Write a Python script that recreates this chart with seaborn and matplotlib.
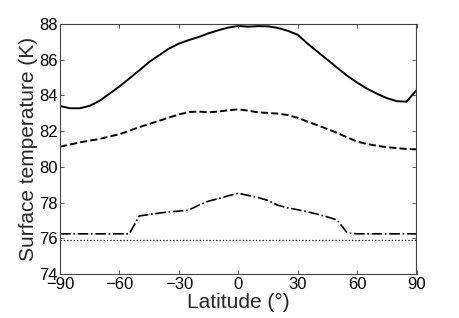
"""Surface temperature versus latitude, four model cases."""

import matplotlib

matplotlib.use("Agg")
import matplotlib.pyplot as plt
import numpy as np
import pandas as pd
import seaborn as sns

latitude = list(range(-90, 91, 5))

temp_solid = [
    83.41, 83.28, 83.28, 83.42, 83.70, 84.10, 84.50, 84.95, 85.40, 85.87,
    86.25, 86.62, 86.90, 87.10, 87.27, 87.48, 87.65, 87.80, 87.89, 87.85,
    87.88, 87.87, 87.78, 87.62, 87.40, 86.90, 86.45, 86.00, 85.55, 85.10,
    84.72, 84.38, 84.10, 83.85, 83.68, 83.65, 84.30,
]
temp_dashed = [
    81.13, 81.25, 81.37, 81.47, 81.56, 81.70, 81.83, 82.02, 82.22, 82.40,
    82.58, 82.76, 82.93, 83.07, 83.10, 83.05, 83.10, 83.17, 83.22, 83.15,
    83.05, 83.02, 82.98, 82.90, 82.75, 82.53, 82.33, 82.12, 81.90, 81.65,
    81.42, 81.28, 81.18, 81.10, 81.05, 81.00, 80.98,
]
temp_dashdot = [
    76.25, 76.25, 76.25, 76.25, 76.25, 76.25, 76.25, 76.25, 77.25, 77.33,
    77.41, 77.48, 77.52, 77.58, 77.85, 78.08, 78.22, 78.38, 78.52, 78.40,
    78.28, 78.12, 77.85, 77.70, 77.60, 77.48, 77.35, 77.20, 77.02, 76.30,
    76.25, 76.25, 76.25, 76.25, 76.25, 76.25, 76.25,
]
temp_dotted = [75.88] * len(latitude)

x_ticks = [-90, -60, -30, 0, 30, 60, 90]
y_ticks = [74, 76, 78, 80, 82, 84, 86, 88]


def main() -> None:
    sns.set_theme(style="white")
    plt.rcParams["font.family"] = ["Liberation Sans", "DejaVu Sans"]
    plt.rcParams["axes.unicode_minus"] = True

    df = pd.DataFrame(
        {
            "lat": latitude,
            "solid": temp_solid,
            "dashed": temp_dashed,
            "dashdot": temp_dashdot,
            "dotted": temp_dotted,
        }
    )

    fig = plt.figure(figsize=(4.6, 3.18), dpi=100)
    ax = fig.add_axes([60 / 460, 1 - 274 / 318, 356.5 / 460, 250 / 318])

    styles = {
        "solid": ("-", 1.4),
        "dashed": ("--", 1.4),
        "dashdot": ("-.", 1.2),
        "dotted": (":", 0.9),
    }
    for col, (ls, lw) in styles.items():
        sns.lineplot(data=df, x="lat", y=col, ax=ax, color="black",
                     linestyle=ls, linewidth=lw)

    ax.set_xlim(-90, 90)
    ax.set_ylim(74, 88)
    ax.set_xticks(x_ticks)
    ax.set_yticks(y_ticks)
    ax.set_xticklabels([str(t).replace("-", "\u2212") for t in x_ticks])
    ax.tick_params(direction="in", length=3, width=0.6, color="#444444",
                   labelsize=12, labelcolor="black",
                   top=True, right=True, bottom=True, left=True)
    ax.tick_params(axis="x", pad=2.5)
    ax.tick_params(axis="y", pad=1.5)
    for spine in ax.spines.values():
        spine.set_color("#444444")
        spine.set_linewidth(0.8)

    ax.set_xlabel("Latitude (\u00b0)", fontsize=15, labelpad=0)
    ax.set_ylabel("Surface temperature (K)", fontsize=15, labelpad=1)

    fig.savefig("out.png", dpi=100)
    plt.close(fig)


if __name__ == "__main__":
    main()
